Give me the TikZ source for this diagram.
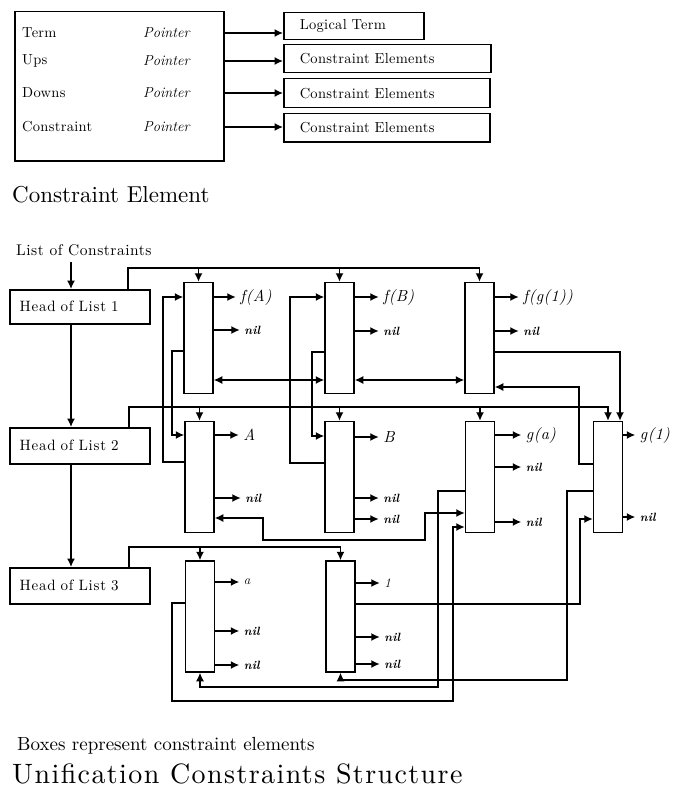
\documentclass[tikz,border=0pt]{standalone}
\usepackage{fontspec}
\newfontfamily\lmw{lmroman10-regular.otf}[ItalicFont=lmroman10-italic.otf,BoldFont=lmroman10-bold.otf,BoldItalicFont=lmroman10-bolditalic.otf]
\usetikzlibrary{arrows.meta}
\newcommand\outarrow[6]{\draw[arr] (#1.east |- 0,#2) -- ++(#3,0) node[#4,xshift=4pt] (#5) {#6};}
\newcommand\spaced[1]{\lmw\addfontfeature{LetterSpace=#1}}
\begin{document}
\begin{tikzpicture}[x=1pt,y=-1pt,
  tip/.tip={Latex[length=8.5pt,width=8pt]},
  arr/.style={line width=1.4pt,-tip},
  darr/.style={line width=1.4pt,tip-tip},
  cbox/.style={draw,line width=1.5pt,minimum width=29pt,minimum height=111pt,inner sep=0pt},
  lbl/.style={inner sep=0pt,anchor=west,font=\fontsize{16}{18}\selectfont\spaced{3}\itshape},
  sml/.style={inner sep=0pt,anchor=west,font=\fontsize{13}{15}\selectfont\itshape},
  nilt/.style={inner sep=0pt,anchor=west,font=\fontsize{12}{14}\selectfont\bfseries\itshape},
  txt/.style={inner sep=0pt,anchor=west,font=\fontsize{14.5}{17}\selectfont\spaced{2}},
  ptr/.style={inner sep=0pt,anchor=west,font=\fontsize{14.5}{17}\selectfont\itshape},
  rbox/.style={draw,line width=1.5pt,anchor=north west,inner xsep=16pt,inner ysep=0pt,align=left,font=\fontsize{14.5}{17}\selectfont\spaced{2}},
  hbox/.style={draw,line width=1.5pt,anchor=north west,text width=120pt,inner xsep=10pt,inner ysep=0pt,align=left,font=\fontsize{15}{17}\selectfont\spaced{5}}
]
\useasboundingbox (0,0) rectangle (677,789);

% ---------- Constraint element ----------
\node[draw,line width=1.5pt,minimum width=209pt,minimum height=149pt,anchor=north west,inner sep=0pt] (ce) at (14,11) {};
\node[txt] (n1) at (22,33) {Term};
\node[txt] (n2) at (22,61) {Ups};
\node[txt] (n3) at (22,93) {Downs};
\node[txt] (n4) at (22,127) {Constraint};
\node[ptr] (p1) at (143,33) {Pointer};
\node[ptr] (p2) at (143,61) {Pointer};
\node[ptr] (p3) at (143,93) {Pointer};
\node[ptr] (p4) at (143,127) {Pointer};

\node[rbox,text width=108pt,minimum height=27pt] (lt) at (283,12) {Logical Term};
\node[rbox,text width=175pt,minimum height=28pt] (r2) at (283,44) {Constraint Elements};
\node[rbox,text width=174pt,minimum height=29pt] (r3) at (283,78) {Constraint Elements};
\node[rbox,text width=174pt,minimum height=28pt] (r4) at (283,113) {Constraint Elements};

\draw[arr] (p1 -| ce.east) -- (p1 -| lt.west);
\draw[arr] (p2 -| ce.east) -- (p2 -| r2.west);
\draw[arr] (p3 -| ce.east) -- (p3 -| r3.west);
\draw[arr] (p4 -| ce.east) -- (p4 -| r4.west);

\node[inner sep=0pt,anchor=base west,font=\fontsize{23}{26}\selectfont\spaced{0}] (cap1) at (12,202) {Constraint Element};

% ---------- Unification constraints structure ----------
\node[inner sep=0pt,anchor=west,font=\fontsize{15.5}{17}\selectfont\spaced{3.3}] (loc) at (16,250) {List of Constraints};
\node[hbox,minimum height=34pt] (H1) at (9,289) {Head of List 1};
\node[hbox,minimum height=36pt] (H2) at (9,427) {Head of List 2};
\node[hbox,minimum height=36pt] (H3) at (9,567) {Head of List 3};

\coordinate (hs) at (71,262);
\draw[arr] (hs) -- (H1.north -| hs);
\draw[arr] (H1.south -| hs) -- (H2.north -| hs);
\draw[arr] (H2.south -| hs) -- (H3.north -| hs);

\node[cbox] (A1) at (198.5,338) {};
\node[cbox] (B1) at (339.5,338) {};
\node[cbox] (C1) at (479.5,338) {};
\node[cbox] (A2) at (199.5,477) {};
\node[cbox] (B2) at (339.5,477) {};
\node[cbox] (C2) at (480,477) {};
\node[cbox] (D2) at (608,477) {};
\node[cbox] (A3) at (200,616.5) {};
\node[cbox] (B3) at (340.5,616.5) {};

% list heads
\coordinate (t1) at (128,268);
\draw[arr] (H1.north -| t1) |- (C1.north |- t1) -- (C1.north);
\draw[arr] (A1.north |- t1) -- (A1.north);
\draw[arr] (B1.north |- t1) -- (B1.north);
\coordinate (t2) at (129,407);
\draw[arr] (H2.north -| t2) |- (D2.north |- t2) -- (D2.north);
\draw[arr] (A2.north |- t2) -- (A2.north);
\draw[arr] (B2.north |- t2) -- (B2.north);
\draw[arr] (C2.north |- t2) -- (C2.north);
\coordinate (t3) at (129,547);
\draw[arr] (H3.north -| t3) |- (B3.north |- t3) -- (B3.north);
\draw[arr] (A3.north |- t3) -- (A3.north);

% outputs
\outarrow{A1}{297}{22}{lbl}{oA1a}{f(A)}
\outarrow{A1}{330}{26}{nilt}{oA1b}{nil}
\outarrow{B1}{297}{24}{lbl}{oB1a}{f(B)}
\outarrow{B1}{331}{24}{nilt}{oB1b}{nil}
\outarrow{C1}{297}{24}{lbl}{oC1a}{f(g(1))}
\outarrow{C1}{331}{24}{nilt}{oC1b}{nil}
\outarrow{A2}{435}{24}{lbl}{oA2a}{A}
\outarrow{A2}{498}{26}{nilt}{oA2b}{nil}
\outarrow{B2}{437}{24}{lbl}{oB2a}{B}
\outarrow{B2}{498}{24}{nilt}{oB2b}{nil}
\outarrow{B2}{519}{24}{nilt}{oB2c}{nil}
\outarrow{C2}{435}{26}{lbl}{oC2a}{g(a)}
\outarrow{C2}{467}{26}{nilt}{oC2b}{nil}
\outarrow{C2}{522}{26}{nilt}{oC2c}{nil}
\outarrow{D2}{435}{12}{lbl}{oD2a}{g(1)}
\outarrow{D2}{517}{12}{nilt}{oD2b}{nil}
\outarrow{A3}{582}{24}{sml}{oA3a}{a}
\outarrow{A3}{631}{24}{nilt}{oA3b}{nil}
\outarrow{A3}{665}{24}{nilt}{oA3c}{nil}
\outarrow{B3}{583}{24}{sml}{oB3a}{1}
\outarrow{B3}{637}{24}{nilt}{oB3b}{nil}
\outarrow{B3}{664}{24}{nilt}{oB3c}{nil}

% constraint links
\draw[darr] (A1.east |- 0,380) -- (B1.west |- 0,380);
\draw[darr] (B1.east |- 0,380) -- (C1.west |- 0,380);
\draw[arr] (A2.west |- 0,462) -| (163,297) -- (A1.west |- 0,297);
\draw[arr] (A1.west |- 0,351) -| (172,435) -- (A2.west |- 0,435);
\draw[arr] (B2.west |- 0,463) -| (290,297) -- (B1.west |- 0,297);
\draw[arr] (B1.west |- 0,352) -| (312,436) -- (B2.west |- 0,436);
\draw[arr] (C1.east |- 0,352) -| (D2.north -| 620,0);
\draw[arr] (D2.west |- 0,464) -| (579,387) -- (C1.east |- 0,387);
\draw[darr] (A2.east |- 0,518) -| (263,540) -| (425,513) -- (C2.west |- 0,513);
\draw[arr] (C2.west |- 0,491) -| (438,687) -| (A3.south);
\draw[arr] (A3.west |- 0,603) -| (172,701) -| (453,527) -- (C2.west |- 0,527);
\draw[arr] (D2.west |- 0,491) -| (567,680) -| (B3.south);
\draw[arr] (B3.east |- 0,604) -| (580,519) -- (D2.west |- 0,519);

\node[inner sep=0pt,anchor=base west,font=\fontsize{19}{21}\selectfont\spaced{0}] (note) at (17,750) {Boxes represent constraint elements};
\node[inner sep=0pt,anchor=base west,font=\fontsize{28}{32}\selectfont\spaced{5}] (cap2) at (12,783) {Unification Constraints Structure};
\end{tikzpicture}
\end{document}
